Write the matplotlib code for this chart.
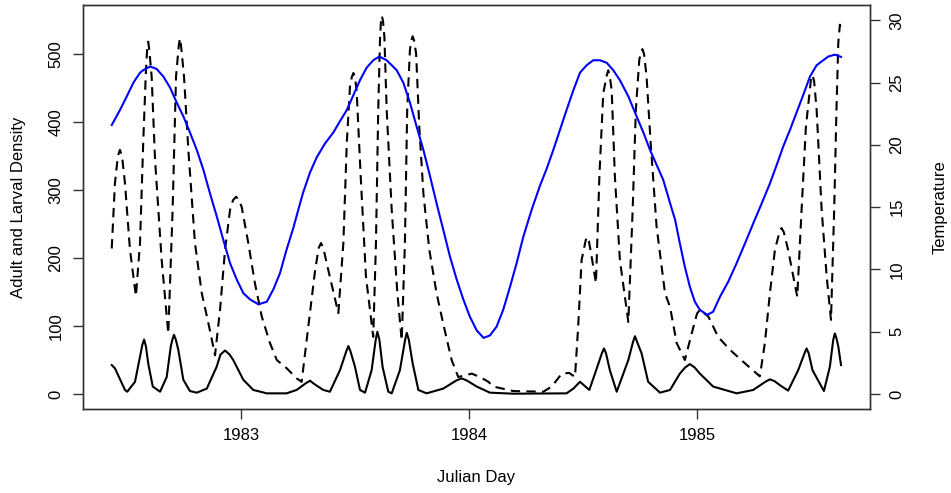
import matplotlib
matplotlib.use("Agg")
import matplotlib.pyplot as plt

# decimal year (Julian day axis) and values
adult_x = [1982.433, 1982.447, 1982.491, 1982.501, 1982.535, 1982.557, 1982.567, 1982.575,
           1982.583, 1982.593, 1982.613, 1982.645, 1982.674, 1982.692, 1982.699, 1982.706,
           1982.714, 1982.725, 1982.747, 1982.776, 1982.806, 1982.850, 1982.893, 1982.910,
           1982.930, 1982.950, 1982.966, 1983.010, 1983.054, 1983.113, 1983.200, 1983.244,
           1983.285, 1983.303, 1983.320, 1983.361, 1983.390, 1983.434, 1983.462, 1983.471,
           1983.480, 1983.500, 1983.522, 1983.544, 1983.573, 1983.591, 1983.598, 1983.607,
           1983.621, 1983.646, 1983.661, 1983.697, 1983.720, 1983.727, 1983.736, 1983.753,
           1983.778, 1983.814, 1983.887, 1983.945, 1983.968, 1983.990, 1984.034, 1984.092,
           1984.194, 1984.428, 1984.458, 1984.487, 1984.528, 1984.568, 1984.583, 1984.592,
           1984.601, 1984.618, 1984.648, 1984.699, 1984.720, 1984.728, 1984.737, 1984.757,
           1984.786, 1984.838, 1984.882, 1984.925, 1984.948, 1984.969, 1984.990, 1985.013,
           1985.071, 1985.174, 1985.247, 1985.300, 1985.320, 1985.340, 1985.364, 1985.400,
           1985.444, 1985.472, 1985.481, 1985.490, 1985.507, 1985.557, 1985.583, 1985.598,
           1985.605, 1985.612, 1985.620, 1985.632]
adult_y = [42.6, 37.8, 6, 3.4, 18, 55, 72, 80,
           70, 45, 11, 3.4, 25, 70, 80, 87,
           80, 65, 21, 4.4, 2, 8, 40, 58,
           64, 58, 50, 21, 6, 1, 1, 6,
           16, 19.6, 15, 6, 3.4, 35, 63, 70.6,
           63, 40, 6, 2, 35, 80, 91.6, 80,
           40, 3.4, 1, 35, 80, 90, 80, 45,
           6, 1, 8, 20, 23, 20, 11, 2,
           0.5, 1, 8, 18, 6, 45, 60, 67,
           60, 35, 3.4, 50, 77, 85, 77, 60,
           18, 2, 6, 30, 39, 44, 39, 30,
           11, 1, 6, 18, 21.6, 19, 13, 5,
           35, 60, 67, 60, 35, 4.4, 40, 80,
           89, 82, 70, 42.6]

larval_x = [1982.433, 1982.447, 1982.460, 1982.469, 1982.478, 1982.491, 1982.513, 1982.539,
            1982.557, 1982.571, 1982.583, 1982.588, 1982.593, 1982.598, 1982.608, 1982.623,
            1982.652, 1982.681, 1982.700, 1982.715, 1982.727, 1982.732, 1982.737, 1982.750,
            1982.769, 1982.798, 1982.828, 1982.857, 1982.886, 1982.908, 1982.930, 1982.952,
            1982.965, 1982.978, 1982.990, 1983.003, 1983.032, 1983.061, 1983.091, 1983.127,
            1983.157, 1983.200, 1983.244, 1983.266, 1983.295, 1983.325, 1983.341, 1983.351,
            1983.361, 1983.383, 1983.427, 1983.449, 1983.464, 1983.478, 1983.486, 1983.493,
            1983.500, 1983.507, 1983.525, 1983.548, 1983.580, 1983.592, 1983.602, 1983.610,
            1983.614, 1983.618, 1983.623, 1983.629, 1983.639, 1983.661, 1983.686, 1983.705,
            1983.719, 1983.729, 1983.741, 1983.747, 1983.753, 1983.759, 1983.768, 1983.782,
            1983.800, 1983.826, 1983.858, 1983.890, 1983.924, 1983.953, 1983.990, 1984.012,
            1984.048, 1984.085, 1984.107, 1984.194, 1984.326, 1984.363, 1984.407, 1984.440,
            1984.465, 1984.479, 1984.494, 1984.512, 1984.519, 1984.526, 1984.538, 1984.557,
            1984.572, 1984.589, 1984.604, 1984.611, 1984.618, 1984.626, 1984.640, 1984.662,
            1984.699, 1984.718, 1984.732, 1984.747, 1984.754, 1984.761, 1984.768, 1984.779,
            1984.797, 1984.823, 1984.860, 1984.882, 1984.911, 1984.947, 1984.977, 1985.000,
            1985.013, 1985.027, 1985.050, 1985.093, 1985.145, 1985.211, 1985.276, 1985.298,
            1985.320, 1985.342, 1985.362, 1985.371, 1985.381, 1985.400, 1985.440, 1985.459,
            1985.478, 1985.500, 1985.507, 1985.514, 1985.525, 1985.547, 1985.569, 1985.588,
            1985.602, 1985.612, 1985.620, 1985.627, 1985.632]
larval_y = [214, 310, 350, 359, 350, 310, 212, 144,
            222, 369, 476, 505, 518, 505, 467, 344,
            197, 89, 271, 467, 512, 523, 512, 467,
            359, 222, 148, 104, 57, 124, 212, 271,
            285, 290, 286, 275, 222, 163, 114, 75,
            50, 38, 23, 18, 99, 182, 215, 222,
            215, 182, 119, 222, 369, 452, 466, 472,
            465, 447, 320, 173, 84, 222, 418, 525,
            548, 556, 548, 525, 418, 271, 148, 79,
            222, 418, 506, 520, 526, 520, 501, 393,
            295, 212, 148, 99, 50, 25, 28, 30,
            25, 18, 11, 4.4, 3.4, 11, 30, 31,
            25, 99, 197, 226, 231, 225, 202, 163,
            320, 442, 468, 476, 466, 447, 320, 197,
            106, 271, 418, 491, 502, 507, 500, 467,
            369, 246, 148, 128, 75, 50, 89, 118,
            124, 120, 114, 84, 65, 45, 26, 75,
            148, 212, 238, 244, 238, 212, 143, 271,
            393, 462, 469, 460, 418, 271, 173, 109,
            271, 418, 516, 543, 538]

temp_x = [1982.433, 1982.469, 1982.499, 1982.528, 1982.557, 1982.571, 1982.601, 1982.630,
          1982.659, 1982.689, 1982.718, 1982.747, 1982.776, 1982.806, 1982.835, 1982.864,
          1982.893, 1982.922, 1982.952, 1982.981, 1983.010, 1983.039, 1983.076, 1983.113,
          1983.142, 1983.171, 1983.200, 1983.229, 1983.244, 1983.259, 1983.273, 1983.303,
          1983.332, 1983.368, 1983.405, 1983.434, 1983.464, 1983.493, 1983.522, 1983.551,
          1983.580, 1983.607, 1983.639, 1983.683, 1983.712, 1983.741, 1983.770, 1983.800,
          1983.829, 1983.858, 1983.887, 1983.917, 1983.946, 1983.975, 1984.004, 1984.034,
          1984.064, 1984.092, 1984.121, 1984.150, 1984.180, 1984.209, 1984.238, 1984.275,
          1984.311, 1984.341, 1984.370, 1984.399, 1984.428, 1984.458, 1984.487, 1984.516,
          1984.545, 1984.575, 1984.604, 1984.633, 1984.662, 1984.699, 1984.735, 1984.765,
          1984.794, 1984.823, 1984.852, 1984.889, 1984.904, 1984.925, 1984.947, 1984.969,
          1984.991, 1985.013, 1985.045, 1985.071, 1985.101, 1985.137, 1985.174, 1985.211,
          1985.247, 1985.284, 1985.320, 1985.350, 1985.379, 1985.408, 1985.437, 1985.466,
          1985.496, 1985.525, 1985.554, 1985.576, 1985.605, 1985.632]
temp_y = [21.6, 22.8, 23.9, 25.0, 25.8, 26.0, 26.3, 26.1,
          25.5, 24.6, 23.4, 22.3, 21.0, 19.6, 18.0, 16.1,
          14.3, 12.4, 10.5, 9.2, 8.1, 7.6, 7.2, 7.4,
          8.4, 9.7, 11.6, 13.3, 14.3, 15.3, 16.2, 17.8,
          19.0, 20.1, 21.0, 21.9, 22.8, 24.0, 25.2, 26.2,
          26.8, 27.1, 26.8, 26.0, 25.0, 23.4, 21.5, 19.6,
          17.5, 15.3, 13.2, 11.0, 9.2, 7.6, 6.2, 5.1,
          4.5, 4.7, 5.4, 6.75, 8.6, 10.5, 12.6, 14.8,
          16.7, 18.1, 19.6, 21.2, 22.8, 24.4, 25.8, 26.4,
          26.8, 26.8, 26.6, 26.0, 25.2, 23.9, 22.3, 21.0,
          19.6, 18.4, 17.2, 14.9, 14.0, 12.1, 10.2, 8.6,
          7.4, 6.75, 6.35, 6.6, 7.8, 9.0, 10.5, 12.1,
          13.7, 15.3, 16.9, 18.4, 19.9, 21.2, 22.6, 24.0,
          25.5, 26.4, 26.8, 27.1, 27.25, 27.07]

year_ticks = [1983, 1984, 1985]
density_ticks = [0, 100, 200, 300, 400, 500]
temp_ticks = [0, 5, 10, 15, 20, 25, 30]

plt.rcParams['font.family'] = ['Liberation Sans', 'DejaVu Sans']

fig = plt.figure(figsize=(9.51, 4.93), dpi=100)
ax = fig.add_axes([0.0873, 0.1704, 0.8275, 0.8195])

ax.plot(adult_x, adult_y, color='black', lw=1.5)
ax.plot(larval_x, larval_y, color='black', lw=1.5, dashes=(4.5, 3))
ax.set_xlim(1982.307, 1985.759)
ax.set_ylim(-22, 572)
ax.set_xticks(year_ticks)
ax.set_yticks(density_ticks)
ax.set_xlabel('Julian Day', fontsize=12, labelpad=19)
ax.set_ylabel('Adult and Larval Density', fontsize=12, labelpad=16)

ax2 = ax.twinx()
ax2.plot(temp_x, temp_y, color='blue', lw=1.5)
ax2.set_ylim(-1.21, 31.24)
ax2.set_yticks(temp_ticks)
ax2.set_ylabel('Temperature', fontsize=12, labelpad=20)

for a in (ax, ax2):
    a.tick_params(direction='out', length=7, width=1, labelsize=12, pad=7, color='#333333')
    for s in a.spines.values():
        s.set_linewidth(1)
        s.set_color('#333333')

for lbl in ax.get_yticklabels():
    lbl.set_rotation(90)
    lbl.set_va('center')
for lbl in ax2.get_yticklabels():
    lbl.set_rotation(90)
    lbl.set_va('center')

fig.savefig('out.png', dpi=100)
